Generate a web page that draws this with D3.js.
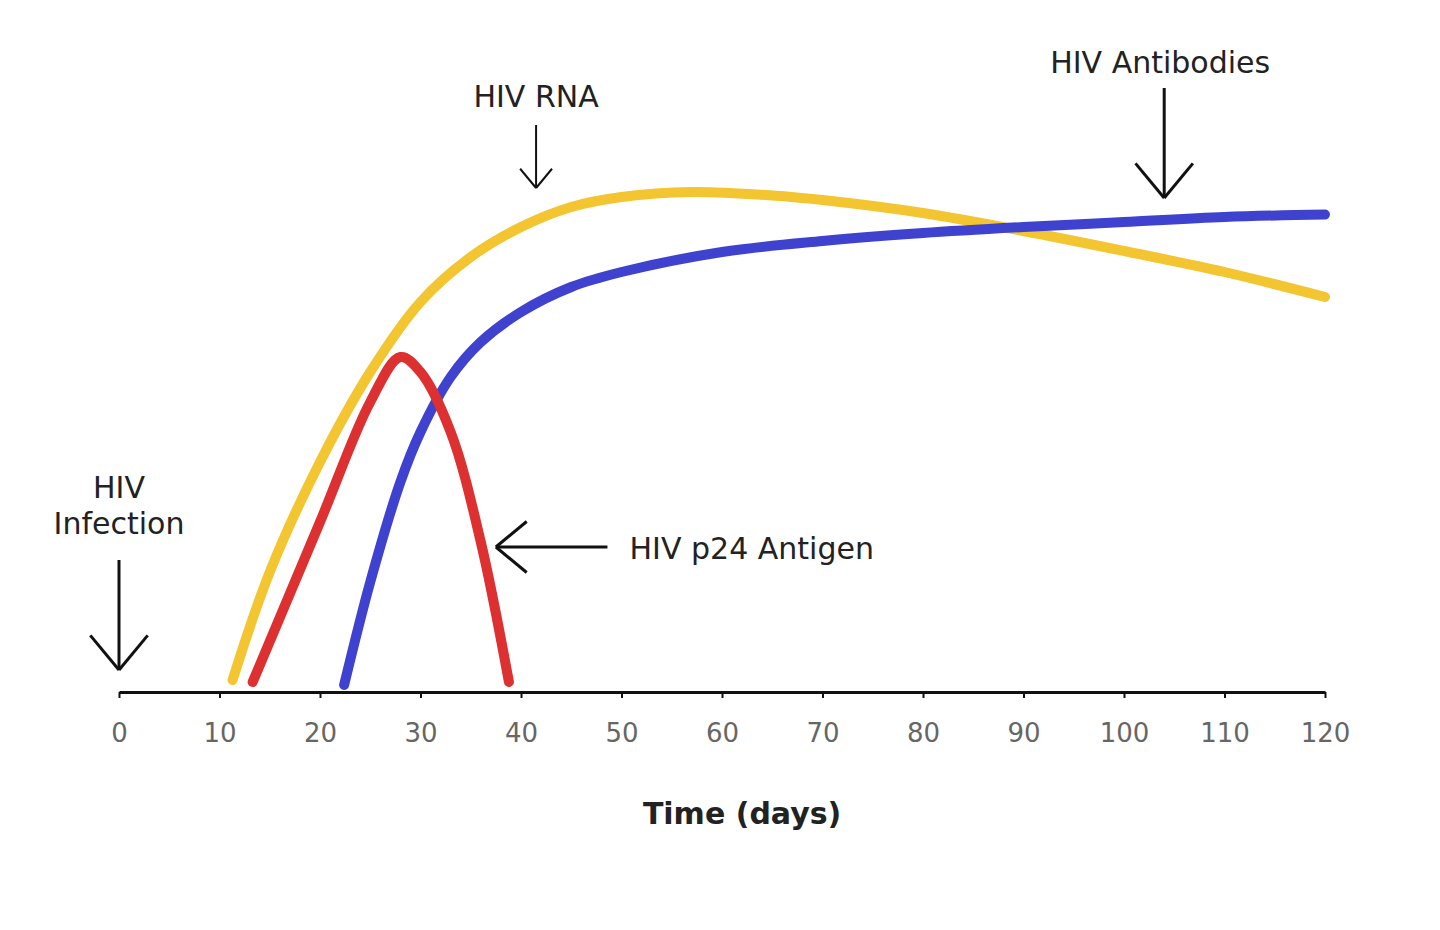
<!DOCTYPE html>
<html><head><meta charset="utf-8">
<script src="https://cdn.jsdelivr.net/npm/d3@7"></script>
<style>body{margin:0;background:#fff}text{font-family:"DejaVu Sans",sans-serif}</style>
</head><body><svg id="c" width="1440" height="930"></svg>
<script>
const ticks=[0,10,20,30,40,50,60,70,80,90,100,110,120];
const rnaDays=[11.3,15,20,25,30,35,40,45,50,57,65,70,80,90,100,110,120];
const rnaVals=[2.4,24,46,64,78,87,93,97,99,100,99.3,98.4,95.8,92.2,88.2,84,79];
const p24Days=[13.3,20,25,28,30,33,36,38.8];
const p24Vals=[2,34,58,67,64,52,30,2];
const abDays=[22.4,25,28,30,33,36,40,45,50,60,70,80,90,100,110,120];
const abVals=[1.4,22,42,52,63,70,76,81,84,88,90.2,91.8,93,94,95,95.5];

const svg=d3.select("#c");
const x=d3.scaleLinear().domain([0,120]).range([119,1325]);
const y=d3.scaleLinear().domain([0,100]).range([692,192]);
const line=d3.line().x(d=>x(d[0])).y(d=>y(d[1])).curve(d3.curveCatmullRom.alpha(0.5));
function draw(ds,vs,c){svg.append("path").attr("d",line(ds.map((d,i)=>[d,vs[i]])))
 .attr("fill","none").attr("stroke",c).attr("stroke-width",10).attr("stroke-linecap","round");}
draw(rnaDays,rnaVals,"#f2c531");
draw(abDays,abVals,"#3f41cf");
draw(p24Days,p24Vals,"#dd3030");

const ax=svg.append("g").attr("transform","translate(0,692)")
 .call(d3.axisBottom(x).tickValues(ticks).tickSize(6).tickSizeOuter(0).tickPadding(26));
ax.select(".domain").attr("stroke","#111").attr("stroke-width",3);
ax.selectAll(".tick line").attr("stroke","#111").attr("stroke-width",2);
ax.selectAll(".tick text").attr("fill","#666").attr("font-size",26);
svg.append("text").attr("x",x(62)).attr("y",824).attr("text-anchor","middle").attr("font-size",30).attr("font-weight","bold").attr("fill","#222").text("Time (days)");

function arrow(x1,y1,x2,y2,h,w){
 svg.append("line").attr("x1",x1).attr("y1",y1).attr("x2",x2).attr("y2",y2).attr("stroke","#111").attr("stroke-width",w);
 const a=Math.atan2(y2-y1,x2-x1);
 [a+2.45,a-2.45].forEach(b=>svg.append("line").attr("x1",x2).attr("y1",y2)
  .attr("x2",x2+h*Math.cos(b)).attr("y2",y2+h*Math.sin(b)).attr("stroke","#111").attr("stroke-width",w));
}
function label(t,xx,yy,anchor){svg.append("text").attr("x",xx).attr("y",yy).attr("text-anchor",anchor||"middle")
 .attr("font-size",30).attr("fill","#222").text(t);}
label("HIV RNA",x(41.5),107);
arrow(x(41.5),125,x(41.5),188,25,2);
label("HIV Antibodies",x(103.6),73);
arrow(x(104),88,x(104),198,45,3);
label("HIV",x(0),498);label("Infection",x(0),534);
arrow(x(0),560,x(0),670,45,3);
arrow(x(48.6),547,x(37.5),547,40,3);
label("HIV p24 Antigen",x(50.8),559,"start");
</script></body></html>
